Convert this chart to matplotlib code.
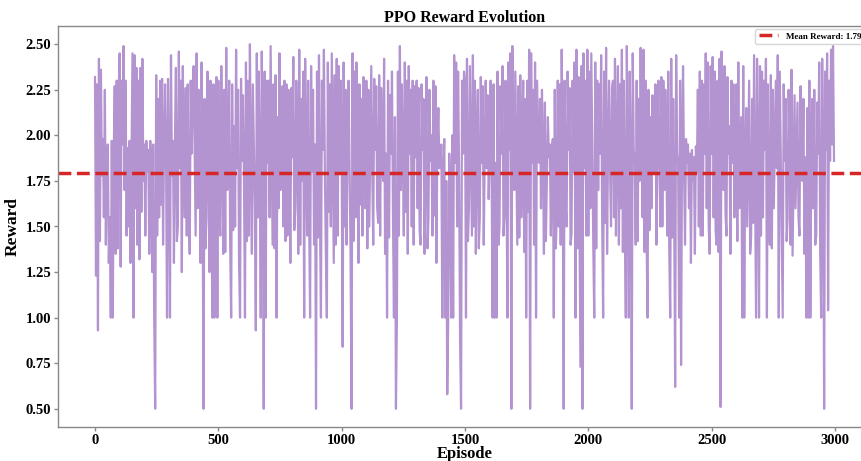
import numpy as np
import matplotlib
matplotlib.use("Agg")
import matplotlib.pyplot as plt

# ---- data (rewards, one value every 4 episodes) ----
episode_step = 4
rewards = [
    # 0-96
    2.32, 1.23, 2.28, 0.93, 2.42, 1.42, 2.36, 1.78, 1.98, 1.55, 2.25, 1.40, 1.92, 1.95, 1.30, 1.55, 1.00, 1.97, 1.00, 1.90, 2.27, 1.35, 2.30, 1.38, 2.25,
    # 100-196
    2.45, 1.28, 2.30, 1.95, 2.49, 1.70, 2.30, 1.45, 1.93, 1.50, 1.97, 1.30, 1.90, 2.45, 1.00, 2.44, 1.60, 2.37, 1.40, 2.30, 1.32, 2.37, 1.58, 2.42, 1.75,
    # 200-296
    1.95, 1.45, 1.97, 1.80, 1.92, 1.35, 1.97, 1.85, 1.25, 1.95, 1.00, 0.50, 2.33, 1.45, 2.20, 1.55, 2.30, 1.62, 2.31, 1.40, 1.95, 2.28, 1.88, 1.00, 2.31,
    # 300-396
    1.85, 1.00, 2.44, 1.78, 1.97, 1.30, 1.95, 2.37, 1.42, 1.50, 2.46, 1.82, 2.30, 1.25, 2.38, 1.92, 1.55, 2.26, 1.45, 2.28, 1.60, 1.35, 2.30, 1.90, 2.25,
    # 400-496
    2.38, 1.92, 1.45, 2.45, 1.60, 2.25, 1.88, 1.30, 2.40, 1.75, 0.50, 2.20, 1.38, 1.55, 2.35, 1.90, 1.25, 2.30, 1.52, 1.00, 2.28, 1.00, 1.95, 2.32, 1.00,
    # 500-596
    2.30, 1.58, 1.45, 2.38, 1.92, 1.35, 2.25, 1.36, 2.48, 1.70, 1.93, 2.30, 1.40, 1.00, 2.28, 1.48, 2.05, 1.50, 2.47, 1.82, 2.25, 1.30, 1.00, 2.31, 1.86,
    # 600-696
    2.22, 1.75, 1.00, 2.40, 1.42, 2.30, 1.45, 2.50, 1.85, 1.35, 2.28, 1.92, 1.60, 0.93, 2.45, 1.55, 2.35, 1.80, 1.00, 2.46, 1.95, 0.50, 2.35, 1.00, 2.30,
    # 700-796
    1.85, 2.30, 1.55, 2.49, 1.92, 1.40, 2.28, 1.38, 2.33, 1.00, 2.10, 1.60, 2.45, 1.70, 1.96, 2.27, 1.50, 2.30, 1.42, 2.28, 1.45, 2.25, 1.93, 1.30, 2.26,
    # 800-896
    1.88, 2.43, 1.48, 1.60, 2.30, 1.92, 1.35, 2.47, 1.40, 2.20, 1.75, 2.35, 1.00, 2.42, 1.90, 1.45, 2.30, 1.56, 1.00, 2.38, 1.80, 2.25, 1.40, 1.95, 0.50,
    # 900-996
    2.35, 1.44, 2.44, 1.55, 1.00, 2.30, 1.92, 2.47, 1.78, 1.35, 1.00, 2.40, 1.58, 2.28, 1.50, 2.45, 1.90, 1.30, 2.33, 1.40, 2.42, 1.45, 2.38, 1.80, 2.30,
    # 1000-1096
    1.90, 0.84, 2.40, 1.50, 2.25, 1.40, 1.95, 2.30, 1.80, 1.35, 0.50, 2.45, 1.42, 2.35, 1.55, 2.40, 1.92, 1.30, 2.28, 1.62, 2.20, 1.45, 2.32, 1.90, 1.60,
    # 1100-1196
    2.30, 1.38, 2.25, 1.50, 1.95, 2.38, 1.80, 1.40, 2.31, 1.92, 2.27, 1.60, 1.52, 2.33, 1.45, 2.26, 1.85, 1.75, 2.42, 1.35, 1.90, 1.00, 2.30, 1.44, 2.22,
    # 1200-1296
    1.90, 2.35, 1.55, 1.00, 2.10, 0.50, 1.00, 2.35, 1.45, 2.49, 1.70, 2.28, 1.92, 1.45, 2.40, 1.58, 2.30, 1.35, 2.38, 1.90, 2.25, 1.50, 2.30, 1.40, 2.27,
    # 1300-1396
    1.88, 2.30, 1.60, 2.26, 1.48, 1.40, 2.28, 1.92, 2.20, 1.35, 1.90, 2.32, 1.38, 1.55, 2.25, 1.86, 2.00, 1.45, 2.30, 1.56, 2.27, 1.30, 1.95, 2.15, 1.82,
    # 1400-1496
    1.85, 1.95, 1.00, 1.80, 1.98, 1.00, 1.75, 0.58, 1.00, 1.90, 1.70, 1.00, 2.00, 1.00, 2.44, 1.85, 2.40, 1.50, 2.35, 1.80, 0.88, 0.50, 2.30, 1.90, 2.35,
    # 1500-1596
    2.28, 1.00, 2.42, 1.42, 1.60, 2.38, 1.92, 1.45, 2.44, 1.50, 2.30, 1.35, 1.95, 2.25, 1.38, 1.55, 2.32, 1.85, 2.27, 1.40, 1.90, 2.30, 1.82, 2.22, 1.65,
    # 1600-1696
    1.92, 2.30, 1.75, 1.00, 2.28, 1.00, 1.85, 1.00, 2.35, 1.40, 1.50, 2.27, 1.90, 2.38, 1.45, 1.55, 2.30, 1.80, 1.00, 2.40, 1.92, 2.45, 0.50, 2.49, 1.85,
    # 1700-1796
    1.70, 2.35, 1.90, 1.40, 2.27, 1.44, 2.33, 1.55, 1.95, 2.30, 1.36, 2.20, 1.00, 2.30, 1.58, 2.47, 0.50, 2.45, 1.85, 2.25, 1.40, 2.40, 1.00, 2.30, 1.92,
    # 1800-1896
    1.85, 2.20, 1.60, 2.25, 1.90, 1.35, 2.18, 1.42, 1.75, 2.10, 1.88, 1.95, 1.45, 1.92, 1.98, 1.00, 2.25, 1.38, 1.55, 2.30, 1.50, 2.28, 1.40, 2.47, 1.90,
    # 1900-1996
    0.50, 2.30, 1.62, 1.50, 2.35, 1.92, 2.26, 1.40, 1.46, 2.30, 1.80, 2.40, 1.00, 2.47, 1.38, 2.32, 1.55, 0.73, 2.38, 0.50, 2.45, 1.82, 2.30, 1.45, 2.47,
    # 2000-2096
    1.45, 2.35, 1.60, 2.45, 1.92, 1.40, 1.00, 2.40, 1.38, 2.30, 1.70, 2.28, 1.90, 2.44, 1.55, 1.00, 2.35, 1.52, 2.48, 1.35, 1.93, 2.30, 1.82, 1.50, 2.26,
    # 2100-2196
    2.30, 1.55, 2.42, 1.45, 1.95, 2.38, 1.40, 2.28, 1.60, 2.47, 1.36, 2.30, 1.50, 1.00, 2.49, 1.90, 1.00, 2.35, 1.85, 0.50, 2.45, 1.92, 1.85, 1.40, 2.30,
    # 2200-2296
    1.42, 2.20, 1.75, 2.48, 1.90, 1.55, 2.47, 1.36, 2.30, 1.45, 1.00, 2.25, 1.48, 2.10, 1.60, 2.22, 1.92, 1.80, 2.28, 1.40, 1.95, 2.30, 1.86, 1.50, 2.32,
    # 2300-2396
    1.50, 2.30, 1.70, 2.25, 1.92, 1.45, 2.35, 1.38, 1.00, 2.42, 1.44, 2.20, 1.60, 0.62, 2.44, 1.90, 1.85, 1.00, 2.30, 0.74, 1.95, 2.38, 1.80, 1.40, 1.98,
    # 2400-2496
    1.85, 1.95, 1.60, 1.90, 1.30, 1.92, 1.75, 1.88, 1.35, 1.94, 1.80, 2.25, 1.50, 2.35, 1.45, 2.30, 1.45, 2.28, 1.90, 2.45, 1.60, 2.40, 1.50, 1.35, 2.38,
    # 2500-2596
    1.90, 2.43, 1.55, 2.35, 1.48, 1.40, 2.30, 1.36, 2.42, 0.51, 2.46, 1.92, 1.70, 2.38, 1.58, 1.45, 2.32, 1.90, 2.05, 1.35, 2.30, 1.85, 2.28, 1.55, 1.95,
    # 2600-2696
    2.28, 1.42, 2.40, 1.60, 1.92, 2.10, 1.00, 2.38, 1.00, 1.85, 2.15, 1.50, 1.90, 2.30, 1.35, 1.45, 2.20, 1.52, 2.44, 1.75, 1.00, 2.42, 1.90, 1.00, 2.38,
    # 2700-2796
    1.45, 2.35, 1.55, 2.30, 1.92, 2.42, 1.00, 2.28, 1.55, 1.40, 2.33, 1.38, 2.25, 1.60, 1.95, 2.30, 1.82, 2.44, 1.00, 2.35, 1.90, 1.50, 1.00, 2.28, 1.86,
    # 2800-2896
    2.20, 1.42, 1.55, 2.25, 1.92, 1.40, 2.36, 1.34, 1.80, 2.22, 1.60, 1.90, 2.18, 1.55, 1.45, 2.27, 1.90, 1.75, 2.20, 1.35, 1.88, 1.00, 2.15, 1.00, 2.30,
    # 2900-2996
    1.00, 1.92, 2.20, 1.60, 2.25, 1.40, 1.45, 2.18, 1.90, 2.40, 1.36, 1.00, 2.42, 1.88, 0.50, 2.35, 1.92, 2.45, 1.04, 2.30, 1.86, 2.47, 1.95, 2.49, 1.86,
]
mean_reward = 1.793

title = "PPO Reward Evolution"
x_label = "Episode"
y_label = "Reward"
legend_label = f"Mean Reward: {mean_reward:.3f}"
x_ticks = [0, 500, 1000, 1500, 2000, 2500, 3000]
y_ticks = [0.50, 0.75, 1.00, 1.25, 1.50, 1.75, 2.00, 2.25, 2.50]

# ---- plot ----
plt.rcParams["font.family"] = ["Liberation Serif", "DejaVu Serif"]
plt.rcParams["font.weight"] = "bold"

W, H = 861, 461
fig = plt.figure(figsize=(W / 100, H / 100), dpi=100)
ax = fig.add_axes([58 / W, 1 - 427 / H, (872 - 58) / W, (427 - 26) / H])

episodes = np.arange(len(rewards)) * episode_step
ax.plot(episodes, rewards, color="#9467bd", alpha=0.7, linewidth=1.6)
ax.axhline(mean_reward, color="#d62728", linestyle="--", linewidth=2.5,
           label=legend_label)

ax.set_xlim(-150, 3150)
ax.set_ylim(0.4, 2.6)
ax.set_xticks(x_ticks)
ax.set_yticks(y_ticks)
ax.set_yticklabels([f"{v:.2f}" for v in y_ticks])

for s in ax.spines.values():
    s.set_color("#888888")
    s.set_linewidth(1.0)
ax.tick_params(axis="both", colors="#888888", labelcolor="black",
               labelsize=10.5, length=3, width=1.0, pad=2)
for lab in ax.get_xticklabels() + ax.get_yticklabels():
    lab.set_fontweight("bold")

ax.set_title(title, fontsize=11.5, fontweight="bold", pad=3)
ax.set_xlabel(x_label, fontsize=12, fontweight="bold", labelpad=-1)
ax.set_ylabel(y_label, fontsize=12.5, fontweight="bold", labelpad=3)

leg = ax.legend(loc="upper right", frameon=True, borderaxespad=0.3,
                prop={"weight": "bold", "size": 6.5}, handlelength=2.2)
leg.get_frame().set_edgecolor("#cccccc")

fig.savefig("out.png", dpi=100)
